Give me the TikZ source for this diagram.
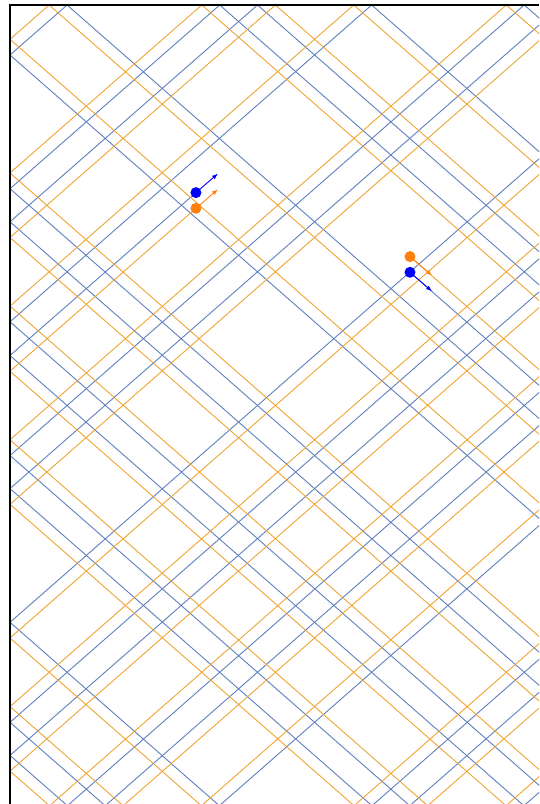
\documentclass[tikz,border=0pt]{standalone}
\usetikzlibrary{arrows.meta}

\definecolor{pathblue}{RGB}{96,128,190}
\definecolor{pathorange}{RGB}{240,165,50}
\definecolor{dotblue}{RGB}{0,0,255}
\definecolor{dotorange}{RGB}{255,127,14}

% billiard box, measured along the vertical axis
\def\Wu{467.05}     % box width (scaled)
\def\Hv{800.7}      % box height
\def\sl{0.876}      % slope of every path
\def\Ustart{-6188.3}
\def\Uend{2965.2}
\def\cblue{50.0}
\def\corange{34.3}

\begin{document}
\begin{tikzpicture}[
  x=1pt, y=-1pt,
  declare function={
    px(\t)=10+(\Wu-abs(Mod(\t,2*\Wu)-\Wu))/\sl;
    py(\t)=5+\Hv-abs(Mod(\t,2*\Hv)-\Hv);
  },
  traj/.style  = {line width=0.9pt, line join=round, line cap=round},
  spine/.style = {line width=1.1pt, draw=black},
  dot/.style   = {circle, inner sep=0pt, minimum size=11pt},
  vel/.style   = {-{Latex[length=6pt,width=4.5pt]}, line width=0.9pt},
]

\fill[white] (0,0) rectangle (539,804);
\useasboundingbox (0,0) rectangle (539,804);

% =============================================================
% Trajectories -- one strip of the unfolded box per step
% =============================================================
\begin{scope}
\clip (0,0) rectangle (539,804);
\foreach \c/\col in {\cblue/pathblue, \corange/pathorange} {
  \foreach \k in {-14,...,6} {
    \pgfmathsetmacro\ua{max(\k*\Wu,\Ustart)}
    \pgfmathsetmacro\ub{min((\k+1)*\Wu,\Uend)}
    \pgfmathsetmacro\ue{min(max((floor((\ua+\c)/\Hv)+1)*\Hv-\c,\ua),\ub)}
    \draw[traj, draw=\col] ({px(\ua)},{py(\ua+\c)}) -- ({px(\ue)},{py(\ue+\c)})
      -- ({px(\ub)},{py(\ub+\c)});
  }
}
\end{scope}

% axes spines (left and top)
\draw[spine] (10,804) -- (10,5) -- (539,5);

% =============================================================
% Particles -- start and end, with velocity
% =============================================================
\node[dot, fill=dotblue]   (bstart) at ({px(\Ustart)},{py(\Ustart+\cblue)}) {};
\node[dot, fill=dotorange] (ostart) at ({px(\Ustart)},{py(\Ustart+\corange)}) {};
\node[dot, fill=dotblue]   (bend)   at ({px(\Uend)},{py(\Uend+\cblue)}) {};
\node[dot, fill=dotorange] (oend)   at ({px(\Uend)},{py(\Uend+\corange)}) {};

\coordinate (bstarttip) at ([shift={(22,19)}]bstart.center);
\coordinate (ostarttip) at ([shift={(22,19)}]ostart.center);
\coordinate (bendtip)   at ([shift={(22,-19)}]bend.center);
\coordinate (oendtip)   at ([shift={(22,-19)}]oend.center);

\draw[vel, dotblue]   (bstart.center) -- (bstarttip);
\draw[vel, dotorange] (ostart.center) -- (ostarttip);
\draw[vel, dotblue]   (bend.center)   -- (bendtip);
\draw[vel, dotorange] (oend.center)   -- (oendtip);

\end{tikzpicture}
\end{document}
